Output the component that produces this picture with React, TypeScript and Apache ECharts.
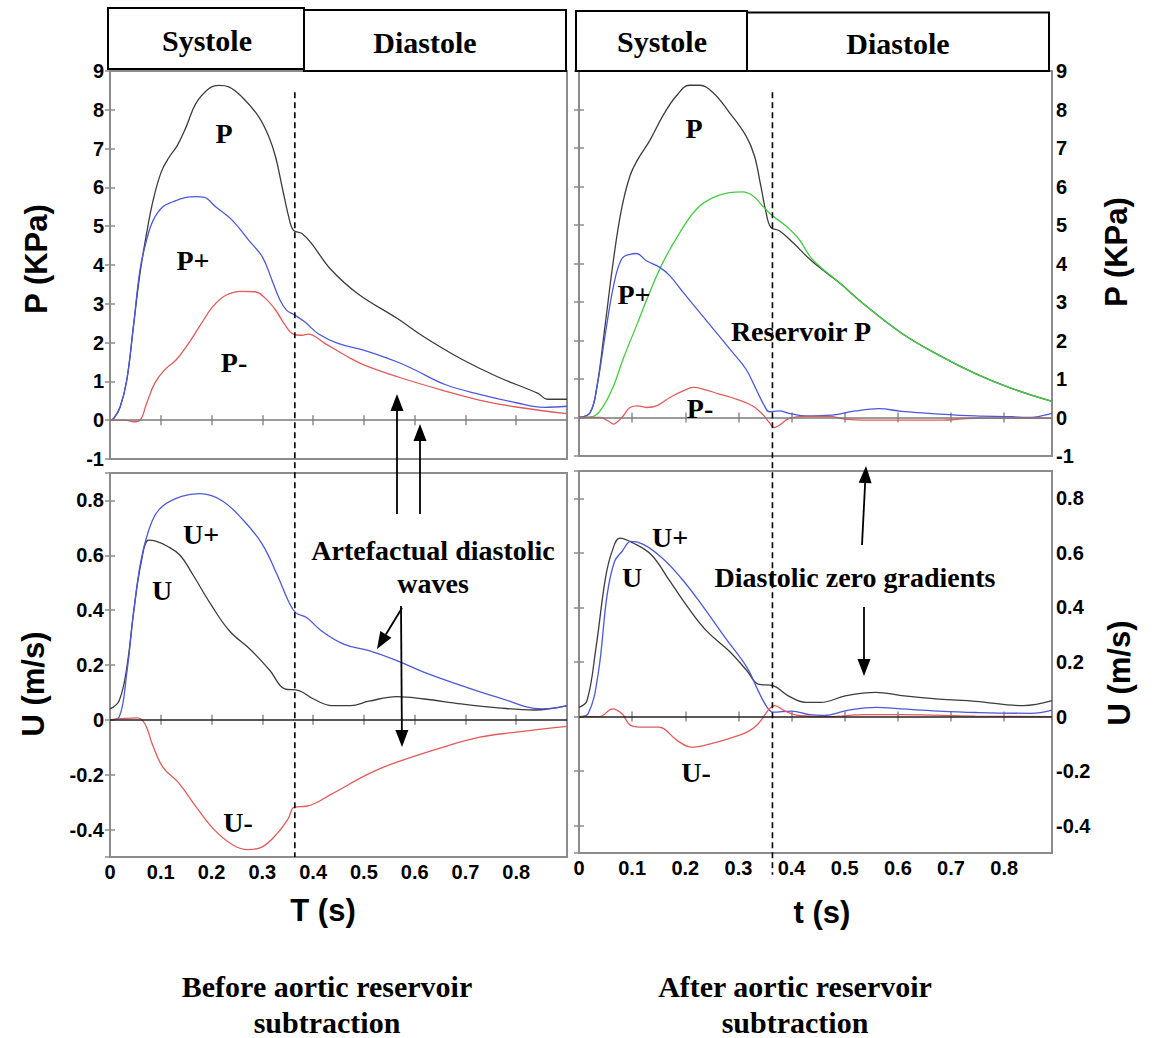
import React, { useEffect, useRef } from "react";
import * as echarts from "echarts";

// ---- Time axes (s) ----
const X_MAX_BEFORE = 0.9;
const X_MAX_AFTER = 0.89;
const END_SYSTOLE = 0.364;

// ---- Before aortic reservoir subtraction: pressure (kPa) ----
const pBefore: [number, number][] = [
  [0, 0], [0.007, 0.04], [0.02, 0.34], [0.033, 1.03], [0.046, 2.4], [0.059, 3.78], [0.072, 4.81],
  [0.085, 5.67], [0.101, 6.4], [0.117, 6.79], [0.133, 7.09], [0.15, 7.56], [0.169, 8.16],
  [0.195, 8.55], [0.215, 8.63], [0.234, 8.59], [0.26, 8.33], [0.293, 7.82], [0.313, 7.3],
  [0.326, 6.79], [0.339, 6.01], [0.352, 5.24], [0.361, 4.9], [0.378, 4.81], [0.397, 4.55],
  [0.436, 3.87], [0.488, 3.26], [0.566, 2.62], [0.618, 2.15], [0.69, 1.59], [0.763, 1.12],
  [0.843, 0.69], [0.861, 0.54], [0.9, 0.54],
];
const pPlusBefore: [number, number][] = [
  [0, 0], [0.007, 0.04], [0.02, 0.34], [0.033, 1.03], [0.046, 2.4], [0.059, 3.87], [0.072, 4.64],
  [0.085, 5.15], [0.104, 5.5], [0.124, 5.63], [0.15, 5.74], [0.169, 5.76], [0.186, 5.74],
  [0.208, 5.5], [0.241, 5.15], [0.273, 4.64], [0.3, 4.21], [0.319, 3.61], [0.335, 3.09],
  [0.348, 2.83], [0.361, 2.73], [0.384, 2.53], [0.41, 2.23], [0.449, 1.98], [0.501, 1.8],
  [0.566, 1.5], [0.6, 1.3], [0.66, 0.92], [0.73, 0.66], [0.8, 0.45], [0.855, 0.33], [0.9, 0.36],
];
const pMinusBefore: [number, number][] = [
  [0, 0], [0.03, 0], [0.046, -0.04], [0.059, 0], [0.072, 0.43], [0.088, 0.95], [0.107, 1.29],
  [0.13, 1.55], [0.15, 1.89], [0.176, 2.41], [0.202, 2.92], [0.228, 3.22], [0.26, 3.32],
  [0.286, 3.31], [0.306, 3.14], [0.326, 2.84], [0.345, 2.45], [0.361, 2.22], [0.378, 2.19],
  [0.39, 2.22], [0.423, 1.98], [0.469, 1.63], [0.501, 1.42], [0.566, 1.12], [0.655, 0.77],
  [0.727, 0.52], [0.8, 0.34], [0.9, 0.17],
];

// ---- Before aortic reservoir subtraction: velocity (m/s) ----
const uBefore: [number, number][] = [
  [0, 0.04], [0.018, 0.07], [0.033, 0.19], [0.047, 0.4], [0.062, 0.58], [0.076, 0.655],
  [0.09, 0.652], [0.112, 0.634], [0.138, 0.6], [0.163, 0.53], [0.199, 0.42], [0.235, 0.325],
  [0.279, 0.252], [0.315, 0.18], [0.344, 0.113], [0.372, 0.107], [0.401, 0.076], [0.437, 0.052],
  [0.474, 0.052], [0.51, 0.068], [0.565, 0.085], [0.619, 0.076], [0.692, 0.058], [0.764, 0.044],
  [0.836, 0.036], [0.9, 0.052],
];
const uPlusBefore: [number, number][] = [
  [0, 0], [0.018, 0.01], [0.033, 0.17], [0.047, 0.4], [0.062, 0.59], [0.083, 0.725],
  [0.104, 0.78], [0.141, 0.815], [0.177, 0.825], [0.22, 0.8], [0.264, 0.725], [0.3, 0.64],
  [0.329, 0.53], [0.351, 0.434], [0.366, 0.39], [0.387, 0.373], [0.416, 0.325], [0.46, 0.276],
  [0.51, 0.252], [0.565, 0.216], [0.619, 0.173], [0.692, 0.125], [0.764, 0.082], [0.851, 0.04],
  [0.9, 0.052],
];
const uMinusBefore: [number, number][] = [
  [0, 0], [0.054, 0.007], [0.069, -0.015], [0.083, -0.087], [0.104, -0.172], [0.134, -0.227],
  [0.17, -0.318], [0.206, -0.402], [0.243, -0.457], [0.271, -0.473], [0.3, -0.463],
  [0.329, -0.415], [0.351, -0.36], [0.363, -0.318], [0.387, -0.315], [0.437, -0.27],
  [0.51, -0.196], [0.565, -0.154], [0.655, -0.1], [0.728, -0.063], [0.8, -0.045], [0.9, -0.024],
];

// ---- After aortic reservoir subtraction: pressure (kPa) ----
const pAfter: [number, number][] = [
  [0, 0], [0.021, 0.13], [0.034, 0.82], [0.049, 2.38], [0.065, 4.11], [0.08, 5.41], [0.096, 6.28],
  [0.111, 6.71], [0.133, 7.19], [0.158, 7.84], [0.183, 8.35], [0.208, 8.63], [0.227, 8.63],
  [0.252, 8.44], [0.283, 7.92], [0.314, 7.32], [0.33, 6.8], [0.342, 6.02], [0.352, 5.32],
  [0.361, 4.94], [0.377, 4.85], [0.402, 4.55], [0.439, 4.05], [0.489, 3.51], [0.538, 2.92],
  [0.607, 2.19], [0.677, 1.62], [0.746, 1.14], [0.815, 0.75], [0.89, 0.42],
];
const reservoirP: [number, number][] = [
  [0, 0], [0.027, 0.03], [0.046, 0.3], [0.065, 0.82], [0.083, 1.52], [0.108, 2.38], [0.133, 3.25],
  [0.158, 4.03], [0.19, 4.81], [0.221, 5.41], [0.252, 5.71], [0.283, 5.84], [0.308, 5.86],
  [0.327, 5.76], [0.345, 5.5], [0.364, 5.24], [0.389, 4.98], [0.414, 4.63], [0.439, 4.11],
  [0.489, 3.51], [0.538, 2.92], [0.607, 2.19], [0.677, 1.62], [0.746, 1.14], [0.815, 0.75],
  [0.89, 0.42],
];
const pPlusAfter: [number, number][] = [
  [0, 0], [0.021, 0.13], [0.034, 0.82], [0.049, 2.12], [0.065, 3.42], [0.08, 4.11], [0.096, 4.24],
  [0.108, 4.26], [0.127, 4.07], [0.152, 3.9], [0.171, 3.68], [0.196, 3.25], [0.227, 2.73],
  [0.258, 2.21], [0.289, 1.69], [0.314, 1.26], [0.333, 0.74], [0.349, 0.3], [0.358, 0.15],
  [0.377, 0.17], [0.395, 0.11], [0.427, 0.04], [0.476, 0.06], [0.52, 0.17], [0.564, 0.23],
  [0.607, 0.16], [0.677, 0.09], [0.746, 0.04], [0.815, 0.02], [0.843, 0], [0.89, 0.11],
];
const pMinusAfter: [number, number][] = [
  [0, 0], [0.04, 0], [0.055, -0.09], [0.065, -0.17], [0.074, -0.09], [0.083, 0.04], [0.096, 0.26],
  [0.111, 0.3], [0.127, 0.26], [0.146, 0.3], [0.171, 0.52], [0.196, 0.69], [0.215, 0.78],
  [0.233, 0.74], [0.264, 0.61], [0.296, 0.48], [0.327, 0.3], [0.345, 0.09], [0.358, -0.13],
  [0.367, -0.26], [0.377, -0.2], [0.395, -0.03], [0.427, 0.03], [0.47, 0.03], [0.5, -0.04],
  [0.538, -0.07], [0.677, -0.07], [0.746, -0.02], [0.89, -0.02],
];

// ---- After aortic reservoir subtraction: velocity (m/s) ----
const uAfter: [number, number][] = [
  [0, 0.034], [0.015, 0.058], [0.032, 0.253], [0.05, 0.51], [0.063, 0.61], [0.077, 0.654],
  [0.102, 0.636], [0.136, 0.593], [0.171, 0.496], [0.205, 0.4], [0.24, 0.314], [0.282, 0.241],
  [0.316, 0.168], [0.337, 0.119], [0.365, 0.113], [0.393, 0.077], [0.427, 0.052], [0.455, 0.052],
  [0.503, 0.077], [0.559, 0.089], [0.607, 0.077], [0.677, 0.064], [0.746, 0.056], [0.836, 0.04],
  [0.89, 0.058],
];
const uPlusAfter: [number, number][] = [
  [0, 0], [0.017, 0.01], [0.036, 0.156], [0.053, 0.447], [0.067, 0.569], [0.081, 0.605],
  [0.098, 0.642], [0.122, 0.63], [0.157, 0.58], [0.192, 0.508], [0.226, 0.423], [0.275, 0.289],
  [0.316, 0.18], [0.337, 0.095], [0.354, 0.034], [0.365, 0.016], [0.4, 0.02], [0.434, 0.007],
  [0.462, 0.004], [0.503, 0.022], [0.559, 0.034], [0.607, 0.028], [0.677, 0.02], [0.746, 0.015],
  [0.85, 0.012], [0.89, 0.024],
];
const uMinusAfter: [number, number][] = [
  [0, 0], [0.039, 0], [0.063, 0.028], [0.081, 0.01], [0.098, -0.033], [0.122, -0.039],
  [0.15, -0.039], [0.185, -0.088], [0.212, -0.112], [0.247, -0.1], [0.282, -0.081],
  [0.316, -0.057], [0.337, -0.027], [0.358, 0.028], [0.368, 0.04], [0.386, 0.022],
  [0.413, 0.004], [0.469, 0], [0.538, 0.007], [0.607, 0.007], [0.746, 0.002], [0.89, 0],
];

// ---- Axis ranges ----
const P_RANGE = [-1, 9];
const U_RANGE = [-0.5, 0.9];

const SANS = "'Liberation Sans', Arial, Helvetica, sans-serif";
const SERIF = "'Liberation Serif', 'Times New Roman', serif";

const BLACK = "#3c3c3c";
const BLUE = "#4c58dc";
const RED = "#e25a5a";
const GREEN = "#44cc44";
const FRAME = "#8c8c8c";

// labels only on whole steps strictly inside the axis extent
const fmtStep = (step: number, lo: number, hi: number) => (v: number) => {
  const r = Math.round(v / step) * step;
  if (Math.abs(v - r) > 1e-6) return "";
  if (v < lo - 1e-9 || v > hi + 1e-9) return "";
  if (Math.abs(r) < 1e-9) return "0";
  return String(+r.toFixed(1));
};

export default function App() {
  const ref = useRef<HTMLDivElement>(null);

  useEffect(() => {
    document.body.style.margin = "0";
    if (!ref.current) return;
    const chart = echarts.init(ref.current, undefined, { renderer: "svg" });

    const grids = [
      { left: 110, top: 71, width: 457, height: 388 }, // P before
      { left: 110, top: 473, width: 457, height: 384 }, // U before
      { left: 579, top: 71, width: 473, height: 385 }, // P after
      { left: 579, top: 471, width: 473, height: 382 }, // U after
    ];

    const tickStyle = { show: true, inside: true, length: 5, lineStyle: { color: FRAME, width: 1.5 } };
    const labelFont = { color: "#000", fontWeight: "bold" as const, fontSize: 20, fontFamily: SANS };

    const xAxes: any[] = [];
    const yAxes: any[] = [];
    grids.forEach((_, g) => {
      const xMax = g < 2 ? X_MAX_BEFORE : X_MAX_AFTER;
      const isBottomRow = g === 1 || g === 3;
      const isPressure = g === 0 || g === 2;
      const isLeftCol = g < 2;
      for (const pos of ["bottom", "top"]) {
        xAxes.push({
          type: "value",
          gridIndex: g,
          position: pos,
          min: 0,
          max: xMax,
          interval: 0.1,
          axisLine: { show: false },
          axisTick: tickStyle,
          splitLine: { show: false },
          axisLabel: {
            show: pos === "bottom" && isBottomRow,
            margin: 5,
            formatter: fmtStep(0.1, 0, 0.8),
            ...labelFont,
          },
        });
      }
      for (const pos of ["left", "right"]) {
        const showLabel = (isLeftCol && pos === "left") || (!isLeftCol && pos === "right");
        const range = isPressure ? P_RANGE : U_RANGE;
        yAxes.push({
          type: "value",
          gridIndex: g,
          position: pos,
          min: range[0],
          max: range[1],
          ...(isPressure ? { interval: 1 } : { splitNumber: 7 }),
          axisLine: { show: false },
          axisTick: tickStyle,
          splitLine: { show: false },
          axisLabel: {
            show: showLabel,
            margin: pos === "left" ? 6 : 4,
            formatter: isPressure ? fmtStep(1, -1, 9) : fmtStep(0.2, -0.4, 0.8),
            ...labelFont,
          },
        });
      }
    });

    const line = (g: number, data: [number, number][], color: string, zeroColor?: string) => {
      const s: any = {
        type: "line",
        xAxisIndex: 2 * g,
        yAxisIndex: 2 * g,
        data,
        showSymbol: false,
        smooth: 0.4,
        lineStyle: { color, width: 1.3 },
        itemStyle: { color },
        silent: true,
      };
      if (zeroColor) {
        s.markLine = {
          silent: true,
          symbol: ["none", "none"],
          label: { show: false },
          lineStyle: { color: zeroColor, width: 1.6, type: "solid" },
          data: [{ yAxis: 0 }],
        };
      }
      return s;
    };

    const series = [
      line(0, pBefore, BLACK, "#7a7a7a"),
      line(0, pPlusBefore, BLUE),
      line(0, pMinusBefore, RED),
      line(1, uBefore, BLACK, "#222"),
      line(1, uPlusBefore, BLUE),
      line(1, uMinusBefore, RED),
      line(2, pAfter, BLACK, "#7a7a7a"),
      line(2, reservoirP, GREEN),
      line(2, pPlusAfter, BLUE),
      line(2, pMinusAfter, RED),
      line(3, uAfter, BLACK, "#222"),
      line(3, uPlusAfter, BLUE),
      line(3, uMinusAfter, RED),
    ];

    chart.setOption({
      animation: false,
      backgroundColor: "#fff",
      grid: grids.map((gr) => ({
        ...gr,
        show: true,
        borderColor: FRAME,
        borderWidth: 2,
        backgroundColor: "transparent",
      })),
      xAxis: xAxes,
      yAxis: yAxes,
      series,
    });

    // pixel helpers for the overlay drawing
    const px = (g: number, t: number, v: number) =>
      chart.convertToPixel({ xAxisIndex: 2 * g, yAxisIndex: 2 * g } as any, [t, v]) as number[];

    const arrow = (x1: number, y1: number, x2: number, y2: number) => {
      const dx = x2 - x1;
      const dy = y2 - y1;
      const L = Math.hypot(dx, dy);
      const ux = dx / L;
      const uy = dy / L;
      const hl = 17;
      const hw = 6.5;
      const bx = x2 - ux * hl;
      const by = y2 - uy * hl;
      return [
        { type: "line", z: 20, shape: { x1, y1, x2: bx, y2: by }, style: { stroke: "#000", lineWidth: 1.8 } },
        {
          type: "polygon",
          z: 20,
          shape: { points: [[x2, y2], [bx - uy * hw, by + ux * hw], [bx + uy * hw, by - ux * hw]] },
          style: { fill: "#000" },
        },
      ];
    };

    const text = (x: number, y: number, str: string, font: string, rotation = 0) => ({
      type: "text",
      z: 30,
      x,
      y,
      rotation,
      style: {
        text: str,
        font,
        fill: "#000",
        textAlign: "center",
        textVerticalAlign: "middle",
        align: "center",
        verticalAlign: "middle",
      },
    });

    const box = (x: number, y: number, w: number, h: number) => ({
      type: "rect",
      z: 25,
      shape: { x, y, width: w, height: h },
      style: { fill: "#fff", stroke: "#000", lineWidth: 2 },
    });

    // end-of-systole dashed markers spanning both panels of each column
    const dashTopL = px(0, END_SYSTOLE, 8.45);
    const dashBotL = px(1, END_SYSTOLE, U_RANGE[0]);
    const dashTopR = px(2, END_SYSTOLE, 8.45);
    const dashBotR = px(3, END_SYSTOLE, -0.58);

    const headerFont = `bold 30px ${SERIF}`;
    const noteFont = `bold 28px ${SERIF}`;
    const axisTitleFont = `bold 31px ${SANS}`;

    const graphic: any[] = [
      {
        type: "line",
        z: 15,
        shape: { x1: dashTopL[0], y1: dashTopL[1], x2: dashBotL[0], y2: dashBotL[1] },
        style: { stroke: "#000", lineWidth: 1.6, lineDash: [6, 4] },
      },
      {
        type: "line",
        z: 15,
        shape: { x1: dashTopR[0], y1: dashTopR[1], x2: dashBotR[0], y2: dashBotR[1] },
        style: { stroke: "#000", lineWidth: 1.6, lineDash: [6, 4] },
      },

      // phase header boxes
      box(108, 8, 196, 61),
      box(304, 10, 262, 61),
      box(576, 11, 171, 60),
      box(747, 12.5, 302, 58.5),
      text(207, 40, "Systole", headerFont),
      text(425, 42, "Diastole", headerFont),
      text(662, 41, "Systole", headerFont),
      text(898, 43, "Diastole", headerFont),

      // axis titles
      text(36, 259, "P (KPa)", axisTitleFont, Math.PI / 2),
      text(33, 684, "U (m/s)", axisTitleFont, Math.PI / 2),
      text(1116, 252, "P (KPa)", axisTitleFont, Math.PI / 2),
      text(1119, 673, "U (m/s)", axisTitleFont, Math.PI / 2),
      text(323, 910, "T (s)", axisTitleFont),
      text(822, 912, "t (s)", axisTitleFont),

      // curve labels
      text(224, 133, "P", noteFont),
      text(193, 260, "P+", noteFont),
      text(234, 362, "P-", noteFont),
      text(694, 128, "P", noteFont),
      text(634, 294, "P+", noteFont),
      text(801, 331, "Reservoir P", noteFont),
      text(700, 408, "P-", noteFont),
      text(201, 534, "U+", noteFont),
      text(162, 590, "U", noteFont),
      text(238, 822, "U-", noteFont),
      text(670, 537, "U+", noteFont),
      text(632, 577, "U", noteFont),
      text(696, 772, "U-", noteFont),

      // annotations
      text(433, 550, "Artefactual diastolic", noteFont),
      text(433, 583, "waves", noteFont),
      text(855, 577, "Diastolic zero gradients", noteFont),

      // captions
      text(327, 986, "Before aortic reservoir", headerFont),
      text(327, 1022, "subtraction", headerFont),
      text(795, 986, "After aortic reservoir", headerFont),
      text(795, 1022, "subtraction", headerFont),

      ...arrow(397, 514, 397, 394),
      ...arrow(420, 514, 420, 424),
      ...arrow(402, 608, 377, 649),
      ...arrow(401, 606, 402, 747),
      ...arrow(862, 545, 866, 466),
      ...arrow(864, 607, 864, 676),
    ];

    chart.setOption({ graphic });

    return () => chart.dispose();
  }, []);

  return <div ref={ref} style={{ width: 1154, height: 1038 }} />;
}
